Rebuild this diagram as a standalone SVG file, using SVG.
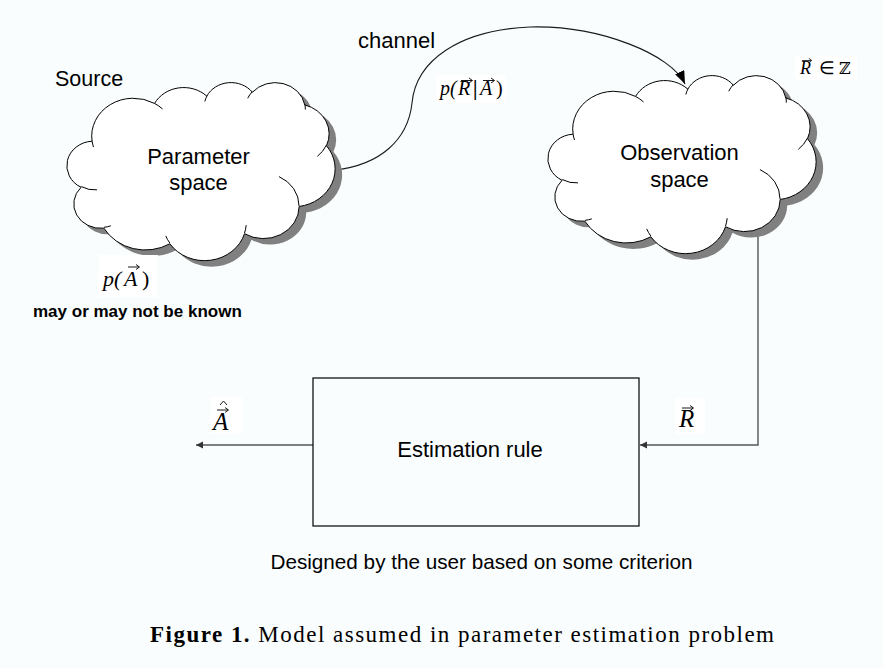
<svg xmlns="http://www.w3.org/2000/svg" width="883" height="668" viewBox="0 0 883 668">
<style>
.bg{fill:#f9fdfd}
.cloud{fill:#ffffff;stroke:#000;stroke-width:1}
.shadow{fill:#808080}
.tails{fill:none;stroke:#000;stroke-width:1}
.lbl{font-family:"Liberation Sans",Arial,sans-serif;fill:#000}
.big{font-size:22px}
.math{font-family:"Liberation Serif","Times New Roman",serif;font-style:italic;fill:#000}
.up{font-style:normal}
.patch{fill:#ffffff}
.acc{fill:none;stroke:#000;stroke-width:0.9}
.conn{fill:none;stroke:#1a1a1a;stroke-width:1.1}
.conn2{fill:none;stroke:#555;stroke-width:1.4}
.box{fill:none;stroke:#000;stroke-width:1.2}
.cap{font-family:"Liberation Serif","Times New Roman",serif;fill:#000}
</style>
<defs>
<path id="cloudPath" d="M24.10,59.21 A41.74,37.87 0 0 1 86.57,21.44 A32.96,29.94 0 0 1 138.80,14.15 A26.98,24.50 0 0 1 184.40,10.23 A30.02,27.17 0 0 1 236.84,22.98 A32.96,29.97 0 0 1 258.47,63.71 A41.87,37.99 0 0 1 231.19,124.45 A35.75,32.42 0 0 1 176.49,151.69 A41.73,37.97 0 0 1 101.86,161.79 A47.71,43.44 0 0 1 35.89,146.17 A26.95,24.38 0 0 1 13.07,105.29 A26.85,24.50 0 0 1 24.10,59.21 Z"/>
<path id="cloudTails" d="M29.01,107.86 A26.85,24.50 0 0 1 13.34,104.58 M42.82,143.80 A26.95,24.38 0 0 1 35.97,145.37 M101.84,161.07 A41.73,37.97 0 0 1 97.72,153.89 M178.17,143.19 A41.73,37.97 0 0 1 176.52,151.05 M210.94,94.58 A35.75,32.42 0 0 1 231.03,123.98 M258.34,63.27 A32.96,29.97 0 0 1 249.39,74.30 M236.86,22.36 A30.02,27.17 0 0 1 237.34,27.56 M179.72,16.28 A30.02,27.17 0 0 1 184.31,9.64 M136.84,19.45 A26.98,24.50 0 0 1 139.06,13.72 M86.53,21.39 A41.74,37.87 0 0 1 94.56,26.95 M25.51,65.06 A41.74,37.87 0 0 1 24.10,59.21"/>
<path id="vec" d="M0,0 H11 M8,-2.5 L11.5,0 L8,2.5"/>
<marker id="bigArrow" markerUnits="userSpaceOnUse" markerWidth="14" markerHeight="12" refX="13" refY="5" orient="auto"><path d="M0,0 L13,5 L0,10 Z" fill="#000"/></marker>
<marker id="smallArrow" markerUnits="userSpaceOnUse" markerWidth="9" markerHeight="8" refX="7" refY="3.5" orient="auto"><path d="M0,0 L7,3.5 L0,7 Z" fill="#333"/></marker>
</defs>
<rect class="bg" x="0" y="0" width="883" height="668"/>

<g id="connectors">
<path class="conn" d="M335,170 C380,165 408,140 412,103 C416,60 460,30 530,27 C600,25 672,55 685,84" marker-end="url(#bigArrow)"/>
<path class="conn2" d="M758,228 V445 H640" marker-end="url(#smallArrow)"/>
<path class="conn2" d="M313,445 H196" marker-end="url(#smallArrow)"/>
</g>

<g id="parameter-space" transform="translate(68,82)">
<use href="#cloudPath" class="shadow" transform="translate(7,6)"/>
<use href="#cloudPath" class="cloud"/>
<use href="#cloudTails" class="tails"/>
<text class="lbl big" x="130.5" y="82" text-anchor="middle">Parameter</text>
<text class="lbl big" x="130.5" y="108" text-anchor="middle">space</text>
</g>

<g id="observation-space" transform="translate(549,75)">
<use href="#cloudPath" class="shadow" transform="translate(7,6)"/>
<use href="#cloudPath" class="cloud"/>
<use href="#cloudTails" class="tails"/>
<text class="lbl big" x="130.5" y="85" text-anchor="middle">Observation</text>
<text class="lbl big" x="130.5" y="112" text-anchor="middle">space</text>
</g>

<g id="estimation-rule">
<rect class="box" x="313" y="378" width="326" height="148"/>
<text class="lbl big" x="470" y="457" text-anchor="middle">Estimation rule</text>
</g>

<g id="labels">
<text class="lbl" x="55" y="86" font-size="21.5">Source</text>
<text class="lbl big" x="358" y="48">channel</text>

<rect class="patch" x="436" y="75" width="70" height="28"/>
<text class="math" y="95" font-size="20"><tspan x="440">p(</tspan><tspan x="458">R</tspan><tspan x="473" class="up" font-weight="bold">|</tspan><tspan x="480">A</tspan><tspan x="496" class="up">)</tspan></text>
<use href="#vec" class="acc" transform="translate(461,80.5)"/>
<use href="#vec" class="acc" transform="translate(483,80.5)"/>

<rect class="patch" x="795" y="56" width="62" height="24"/>
<text class="math" y="74" font-size="18"><tspan x="800">R</tspan><tspan x="819" class="up">∈</tspan><tspan x="839" class="up" font-family="DejaVu Serif,serif" font-size="16">ℤ</tspan></text>
<use href="#vec" class="acc" transform="translate(802,60.5) scale(0.85)"/>

<rect class="patch" x="98" y="255" width="60" height="42"/>
<text class="math" y="286" font-size="22"><tspan x="103">p(</tspan><tspan x="124">A</tspan><tspan x="142" class="up">)</tspan></text>
<use href="#vec" class="acc" transform="translate(128,267)"/>

<text class="lbl" x="33" y="317" font-size="17" font-weight="bold">may or may not be known</text>

<rect class="patch" x="210" y="397" width="32" height="37"/>
<text class="math" x="213" y="430" font-size="25">A</text>
<use href="#vec" class="acc" transform="translate(217,410)"/>
<path class="acc" d="M220,405 L223.5,401 L227,405"/>

<rect class="patch" x="675" y="398" width="30" height="36"/>
<text class="math" x="679" y="427" font-size="25">R</text>
<use href="#vec" class="acc" transform="translate(682,408)"/>

<text class="lbl" x="481.5" y="569" font-size="20.7" text-anchor="middle">Designed by the user based on some criterion</text>
<text class="cap" x="150" y="642" font-size="23" textLength="624" lengthAdjust="spacing"><tspan font-weight="bold">Figure 1.</tspan> Model assumed in parameter estimation problem</text>
</g>
</svg>
